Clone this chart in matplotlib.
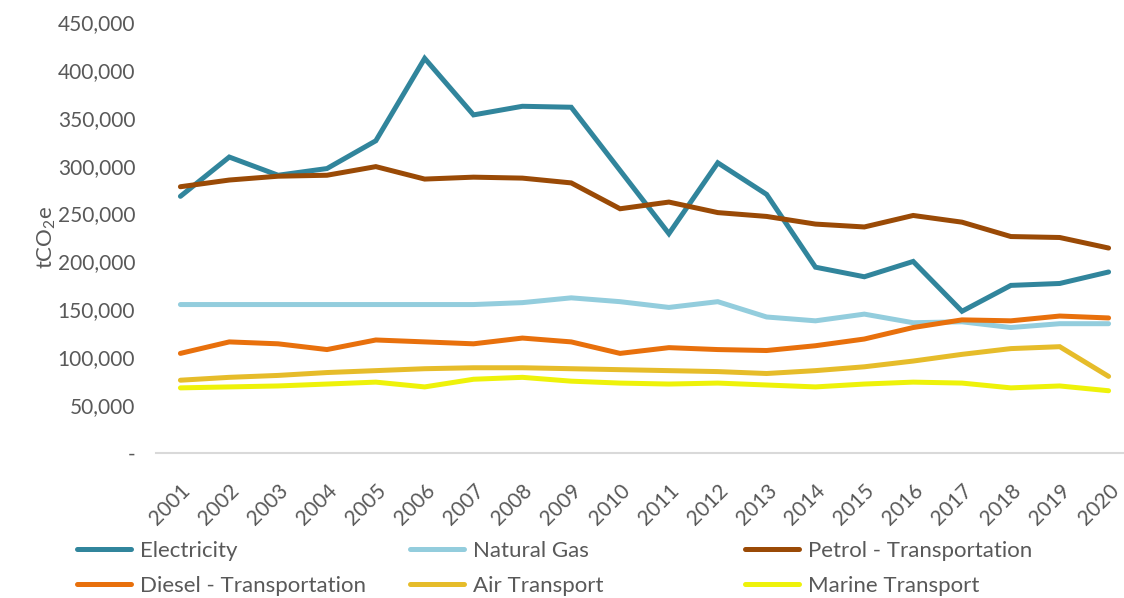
import matplotlib
matplotlib.use("Agg")
import matplotlib.pyplot as plt
from matplotlib.ticker import FuncFormatter

years = [str(y) for y in range(2001, 2021)]
electricity = [268000, 309000, 290000, 297000, 326000, 412000, 353000, 362000, 361000, 295000,
               229000, 303000, 270000, 194000, 184000, 200000, 148000, 175000, 177000, 189000]
natural_gas = [155000, 155000, 155000, 155000, 155000, 155000, 155000, 157000, 162000, 158000,
               152000, 158000, 142000, 138000, 145000, 136000, 137000, 131000, 135000, 135000]
petrol = [278000, 285000, 289000, 290000, 299000, 286000, 288000, 287000, 282000, 255000,
          262000, 251000, 247000, 239000, 236000, 248000, 241000, 226000, 225000, 214000]
diesel = [104000, 116000, 114000, 108000, 118000, 116000, 114000, 120000, 116000, 104000,
          110000, 108000, 107000, 112000, 119000, 131000, 139000, 138000, 143000, 141000]
air = [76000, 79000, 81000, 84000, 86000, 88000, 89000, 89000, 88000, 87000,
       86000, 85000, 83000, 86000, 90000, 96000, 103000, 109000, 111000, 80000]
marine = [68000, 69000, 70000, 72000, 74000, 69000, 77000, 79000, 75000, 73000,
          72000, 73000, 71000, 69000, 72000, 74000, 73000, 68000, 70000, 65000]

series = [
    ("Electricity", electricity, "#31859C"),
    ("Natural Gas", natural_gas, "#93CDDD"),
    ("Petrol - Transportation", petrol, "#9A4A06"),
    ("Diesel - Transportation", diesel, "#E8700C"),
    ("Air Transport", air, "#E6BC2A"),
    ("Marine Transport", marine, "#EEF20A"),
]

plt.rcParams['font.family'] = ['Lato', 'DejaVu Sans']
plt.rcParams['mathtext.default'] = 'regular'
text_color = "#595959"
fs = 15

fig = plt.figure(figsize=(11.24, 5.98), dpi=100)
ax = fig.add_axes([156 / 1124, 1 - 453 / 598, 977 / 1124, (453 - 22) / 598])

x = list(range(len(years)))
handles = {}
for name, vals, col in series:
    (h,) = ax.plot(x, vals, color=col, lw=3.6, solid_capstyle='round', solid_joinstyle='miter', label=name)
    handles[name] = h

ax.set_xlim(-0.5, len(years) - 0.5)
ax.set_ylim(0, 450000)
ax.set_yticks(range(0, 450001, 50000))
ax.yaxis.set_major_formatter(FuncFormatter(lambda v, p: "-" if v == 0 else f"{int(v):,}"))
ax.set_xticks(x)
ax.set_xticklabels(years, rotation=45, ha='right', va='top', rotation_mode='anchor')

for s in ['top', 'right', 'left']:
    ax.spines[s].set_visible(False)
ax.spines['bottom'].set_color("#D9D9D9")
ax.spines['bottom'].set_linewidth(1.5)
ax.tick_params(axis='both', length=0, colors=text_color, labelsize=fs)
ax.tick_params(axis='y', pad=15)
ax.tick_params(axis='x', pad=20)

ax.set_ylabel("tCO$_2$e", fontsize=fs + 1, color=text_color, labelpad=0)

cols = [["Electricity", "Diesel - Transportation"],
        ["Natural Gas", "Air Transport"],
        ["Petrol - Transportation", "Marine Transport"]]
xs = [77, 410, 745]
for cx, names in zip(xs, cols):
    fig.legend([handles[n] for n in names], names, loc='upper left',
               bbox_to_anchor=(cx / 1124, 1 - 541 / 598), frameon=False,
               fontsize=16, borderpad=0, borderaxespad=0, handlelength=2.43,
               handletextpad=0.4, labelspacing=0.68, labelcolor=text_color)

fig.savefig("out.png", dpi=100)
